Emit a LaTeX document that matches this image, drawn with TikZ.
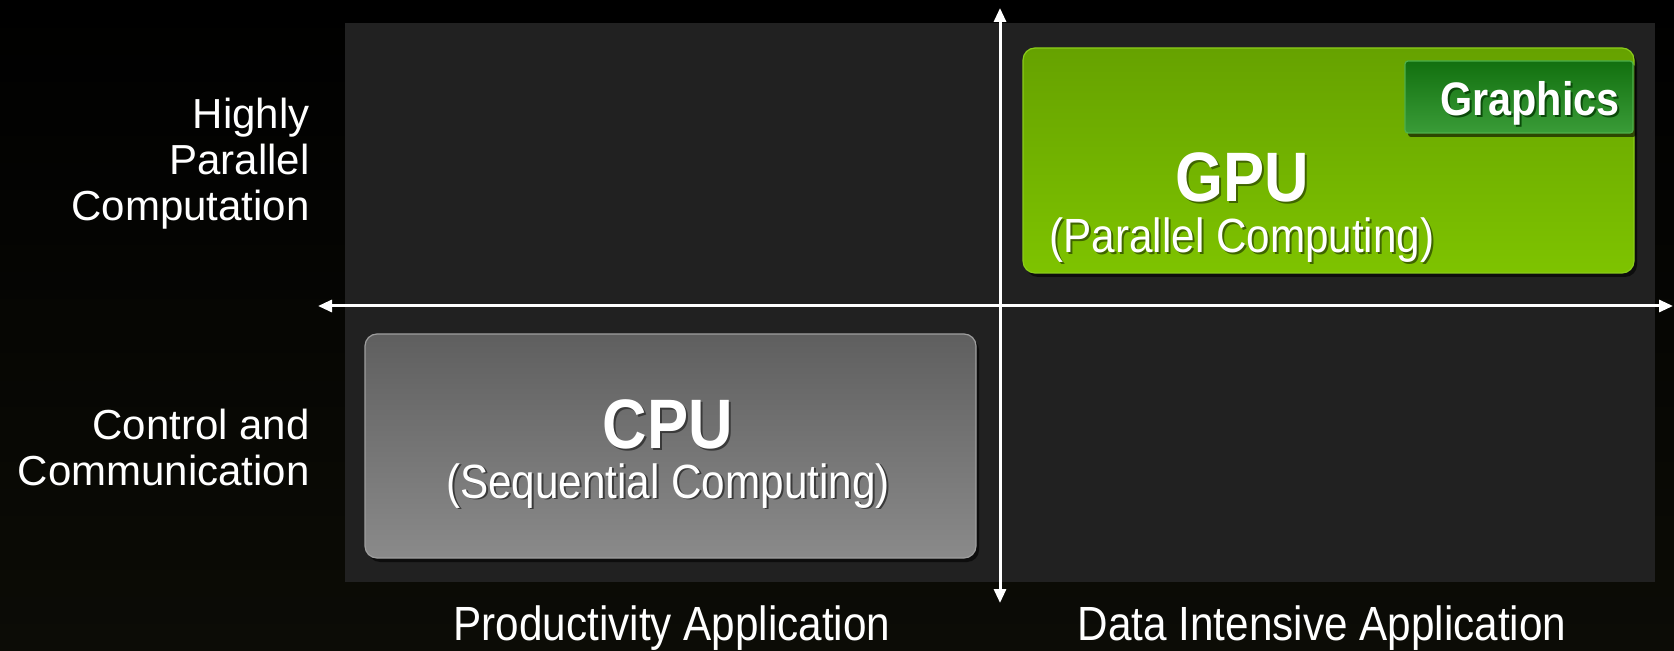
\documentclass[tikz,border=0pt]{standalone}
\usepackage{fontspec}
\setmainfont{Liberation Sans}
\newfontfamily\condfont{Liberation Sans}[FakeStretch=0.88]
\usetikzlibrary{arrows.meta,shadows}
\definecolor{panelc}{HTML}{212121}
\definecolor{gputop}{HTML}{66A200}
\definecolor{gpubot}{HTML}{7EC300}
\definecolor{gpuedge}{HTML}{8ACC1A}
\definecolor{grtop}{HTML}{12700F}
\definecolor{grbot}{HTML}{3A9C38}
\definecolor{gredge}{HTML}{4DB04A}
\definecolor{cputop}{HTML}{5F5F5F}
\definecolor{cpubot}{HTML}{8A8A8A}
\definecolor{cpuedge}{HTML}{9E9E9E}
\definecolor{bgbot}{HTML}{0C0C06}
\definecolor{gpush}{HTML}{3F6400}
\definecolor{grsh}{HTML}{0B4A0A}
\definecolor{cpush}{HTML}{3A3A3A}
\newcommand\shtxt[2]{\makebox[0pt][l]{\kern1pt\raisebox{-1pt}{\textcolor{#1}{#2}}}#2}
\begin{document}
\begin{tikzpicture}[x=0.5pt,y=-0.5pt,
  boxshadow/.style={drop shadow={shadow xshift=1.5pt,shadow yshift=-2pt,opacity=0.6,fill=black}},
  gpubox/.style={rounded corners=6pt, draw=gpuedge, line width=0.6pt, top color=gputop, bottom color=gpubot,
    minimum width=305.5pt, minimum height=112.5pt, inner sep=0pt, boxshadow},
  grbox/.style={rounded corners=1.5pt, draw=gredge, line width=0.6pt, top color=grtop, bottom color=grbot,
    minimum width=114pt, minimum height=36pt, inner sep=0pt, boxshadow},
  cpubox/.style={rounded corners=6pt, draw=cpuedge, line width=0.6pt, top color=cputop, bottom color=cpubot,
    minimum width=305.5pt, minimum height=112pt, inner sep=0pt, boxshadow},
  bigt/.style={text=white, inner sep=0pt, text height=25pt, text depth=0pt, font=\condfont\bfseries\fontsize{35}{38}\selectfont},
  subt/.style={text=white, inner sep=0pt, text height=17pt, text depth=5pt, font=\condfont\fontsize{24}{27}\selectfont},
  grt/.style={text=white, inner sep=0pt, font=\condfont\bfseries\fontsize{23.5}{26}\selectfont},
  sidet/.style={text=white, inner sep=0pt, align=right, anchor=east, font=\fontsize{21}{23}\selectfont},
  bott/.style={text=white, inner sep=0pt, font=\condfont\fontsize{24}{27}\selectfont},
  axis/.style={draw=white, line width=1.5pt, {Triangle[length=7pt,width=6pt]}-{Triangle[length=7pt,width=6pt]}}
]
\useasboundingbox (0,0) rectangle (1674,651);
\shade[top color=black, bottom color=bgbot] (0,0) rectangle (1674,651);
% panel
\fill[panelc] (345,23) rectangle (1655,582);

% GPU box
\node[gpubox] (gpu) at (1328.5,160.5) {};
\node[grbox] (gr) at (1519,97) {};
\node[grt] (grT) at (1530,104) {\shtxt{grsh}{Graphics}};
\node[bigt] (gpuT) at (1242,177) {\shtxt{gpush}{GPU}};
\node[subt] (gpuSub) at (1242,241) {\shtxt{gpush}{(Parallel Computing)}};

% CPU box
\node[cpubox] (cpu) at (670.5,446) {};
\node[bigt] (cpuT) at (668,424) {\shtxt{cpush}{CPU}};
\node[subt] (cpuSub) at (668,486) {\shtxt{cpush}{(Sequential Computing)}};

% axes
\coordinate (vtop) at (1000,8);
\coordinate (vbot) at (1000,603);
\coordinate (hleft) at (318,306);
\coordinate (hright) at (1673,306);
\draw[axis] (vbot) -- (vtop);
\draw[axis] (hleft) -- (hright);

% side labels
\node[sidet] (hpc) at (310,164) {Highly\\Parallel\\Computation};
\node[sidet] (cc) at (310,447) {Control and\\Communication};

% bottom labels
\node[bott] (prod) at (672,628) {Productivity Application};
\node[bott] (data) at (1322,628) {Data Intensive Application};
\end{tikzpicture}
\end{document}
